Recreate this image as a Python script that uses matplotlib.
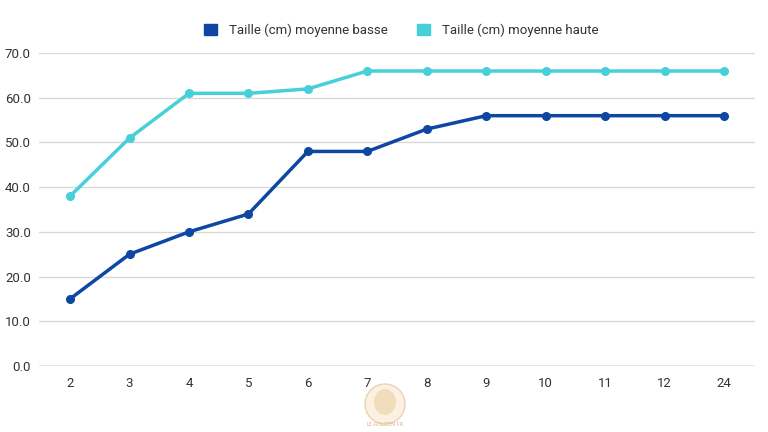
import matplotlib
matplotlib.use("Agg")
import matplotlib.pyplot as plt
from matplotlib.patches import Ellipse

# ---------------------------------------------------------------------------
# Data
# ---------------------------------------------------------------------------
ages = ["2", "3", "4", "5", "6", "7", "8", "9", "10", "11", "12", "24"]
taille_basse = [15, 25, 30, 34, 48, 48, 53, 56, 56, 56, 56, 56]
taille_haute = [38, 51, 61, 61, 62, 66, 66, 66, 66, 66, 66, 66]

label_basse = "Taille (cm) moyenne basse"
label_haute = "Taille (cm) moyenne haute"

color_basse = "#0D47A1"
color_haute = "#46D0D8"

plt.rcParams["font.family"] = ["Roboto", "DejaVu Sans"]

W, H = 768, 432
fig = plt.figure(figsize=(W / 100, H / 100), dpi=100)
ax = fig.add_axes([0.051, 0.153, 0.932, 0.724])

x = list(range(len(ages)))
ax.plot(x, taille_basse, color=color_basse, lw=2.5, marker="o", ms=5.5,
        label=label_basse, zorder=3)
ax.plot(x, taille_haute, color=color_haute, lw=2.5, marker="o", ms=5.5,
        label=label_haute, zorder=3)

ax.set_xlim(-0.52, len(ages) - 0.48)
ax.set_ylim(0, 70)
ax.set_yticks(range(0, 71, 10))
ax.set_yticklabels([f"{v:.1f}" for v in range(0, 71, 10)])
ax.set_xticks(x)
ax.set_xticklabels(ages)

ax.grid(axis="y", color="#d6d6d6", lw=0.9, zorder=0)
ax.axhline(0, color="#8a8a8a", lw=1.0, zorder=1)
for s in ax.spines.values():
    s.set_visible(False)
ax.tick_params(length=0, labelsize=9.5, colors="#333333")
ax.tick_params(axis="y", pad=6)
ax.tick_params(axis="x", pad=8)

handles = [plt.Rectangle((0, 0), 1, 1, color=color_basse),
           plt.Rectangle((0, 0), 1, 1, color=color_haute)]
fig.legend(handles, [label_basse, label_haute], loc="center",
           bbox_to_anchor=(0.522, 0.93), ncol=2, frameon=False,
           fontsize=9.5, handlelength=1.0, handleheight=1.0,
           columnspacing=2.2, handletextpad=0.9, labelcolor="#333333")

# faint watermark (round logo + site name)
fig.patches.append(Ellipse((385 / W, 1 - 404 / H), 40 / W, 40 / H,
                           transform=fig.transFigure, fc="#fbf1e2",
                           ec="#ead3b0", lw=1.0))
fig.patches.append(Ellipse((385 / W, 1 - 402 / H), 22 / W, 26 / H,
                           transform=fig.transFigure, fc="#f1dcbc",
                           ec="none"))
fig.text(385 / W, 1 - 425 / H, "LE-GOLDEN.FR", ha="center", va="center",
         fontsize=4, color="#d9b48a")

fig.savefig("out.png", dpi=100)
